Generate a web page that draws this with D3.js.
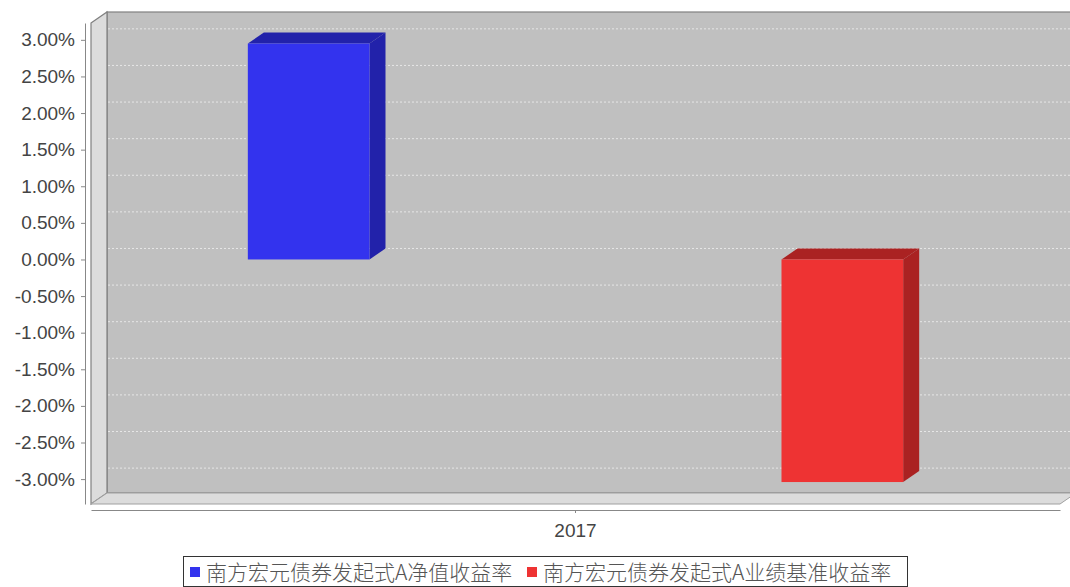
<!DOCTYPE html>
<html>
<head>
<meta charset="utf-8">
<script src="https://cdn.jsdelivr.net/npm/d3@7"></script>
<style>
  body { margin: 0; background: #fff; }
  svg { display: block; }
</style>
</head>
<body>
<svg id="chart" width="1070" height="587"></svg>
<script>
// data
const categories = ["2017"];
const seriesNames = ["南方宏元债券发起式A净值收益率", "南方宏元债券发起式A业绩基准收益率"];
const seriesValues = [2.95, -3.04];   // percent, one value per series for 2017
const tickValues = [3, 2.5, 2, 1.5, 1, 0.5, 0, -0.5, -1, -1.5, -2, -2.5, -3];

const frontColors = ["#3333ee", "#ee3333"];
const darkColors = ["#2222aa", "#aa2222"];

const svg = d3.select("#chart");
const depth = {x: 16, y: 11};          // 3d offset
const plot = {left: 91, right: 1060, top: 23, bottom: 504};

const y = d3.scaleLinear().domain([-3.34, 3.23]).range([plot.bottom, plot.top]);
const x0 = d3.scaleBand().domain(categories).range([plot.left, plot.right])
    .paddingInner(0).paddingOuter(0.0625);
const x1 = d3.scaleBand().domain(d3.range(seriesNames.length)).range([0, x0.bandwidth()])
    .paddingInner(0.772).paddingOuter(0.193);

// walls
const bx = plot.left + depth.x, by = plot.top - depth.y;
const bRight = plot.right + depth.x, bBottom = plot.bottom - depth.y;
svg.append("rect")
    .attr("x", bx).attr("y", by)
    .attr("width", bRight - bx).attr("height", bBottom - by)
    .attr("fill", "#c0c0c0").attr("stroke", "#808080").attr("stroke-width", 1.2);
svg.append("polygon")
    .attr("points", [[plot.left, plot.top], [bx, by], [bx, bBottom], [plot.left, plot.bottom]].join(" "))
    .attr("fill", "#dcdcdc").attr("stroke", "#808080").attr("stroke-width", 1.2);
svg.append("polygon")
    .attr("points", [[plot.left, plot.bottom], [bx, bBottom], [bRight, bBottom], [plot.right, plot.bottom]].join(" "))
    .attr("fill", "#dcdcdc").attr("stroke", "#a0a0a0").attr("stroke-width", 1);

// gridlines on back wall
svg.append("g").selectAll("line")
    .data(tickValues)
    .join("line")
    .attr("x1", bx + 1).attr("x2", bRight)
    .attr("y1", d => y(d) - depth.y).attr("y2", d => y(d) - depth.y)
    .attr("stroke", "#e6e6e6").attr("stroke-width", 1)
    .attr("stroke-dasharray", "2,2");

// bars
const barG = svg.append("g");
seriesValues.forEach((v, i) => {
    const xl = x0(categories[0]) + x1(i);
    const xr = xl + x1.bandwidth();
    const yt = y(Math.max(0, v));
    const yb = y(Math.min(0, v));
    const dx = depth.x, dy = depth.y;
    // side
    barG.append("polygon")
        .attr("points", [[xr, yt], [xr + dx, yt - dy], [xr + dx, yb - dy], [xr, yb]].join(" "))
        .attr("fill", darkColors[i]);
    // top
    barG.append("polygon")
        .attr("points", [[xl, yt], [xl + dx, yt - dy], [xr + dx, yt - dy], [xr, yt]].join(" "))
        .attr("fill", darkColors[i]);
    // front
    barG.append("rect")
        .attr("x", xl).attr("y", yt)
        .attr("width", xr - xl).attr("height", yb - yt)
        .attr("fill", frontColors[i]);
});

// y axis
const yAxis = svg.append("g")
    .attr("transform", "translate(85,0)")
    .call(d3.axisLeft(y).tickValues(tickValues).tickSize(4).tickSizeOuter(0)
        .tickFormat(d => d.toFixed(2) + "%"));
yAxis.select(".domain").attr("stroke", "#888");
yAxis.selectAll(".tick line").attr("stroke", "#888");
yAxis.selectAll("text")
    .attr("x", -10)
    .attr("fill", "#444")
    .style("font-family", "'Liberation Sans', Arial, sans-serif")
    .style("font-size", "19px");

// category axis
const xAxis = svg.append("g")
    .attr("transform", `translate(0,${plot.bottom + 6})`)
    .call(d3.axisBottom(x0).tickSize(3).tickSizeOuter(0));
xAxis.select(".domain").attr("stroke", "#888").attr("stroke-width", 1.2);
xAxis.selectAll(".tick line").attr("stroke", "#888");
xAxis.selectAll("text")
    .attr("y", 27).attr("dy", 0)
    .attr("fill", "#444")
    .style("font-family", "'Liberation Sans', Arial, sans-serif")
    .style("font-size", "19px");

// legend
const legend = svg.append("g");
legend.append("rect")
    .attr("x", 183.5).attr("y", 556.5).attr("width", 724).attr("height", 30)
    .attr("fill", "#fff").attr("stroke", "#333").attr("stroke-width", 1);
const legendX = [190, 527];
seriesNames.forEach((name, i) => {
    legend.append("rect")
        .attr("x", legendX[i]).attr("y", 567).attr("width", 10).attr("height", 10)
        .attr("fill", frontColors[i]);
    legend.append("text")
        .attr("x", legendX[i] + 16).attr("y", 580)
        .attr("fill", "#555")
        .style("font-family", "'Noto Sans CJK SC', sans-serif")
        .style("font-size", "21px")
        .style("font-weight", 300)
        .text(name);
});
</script>
</body>
</html>
